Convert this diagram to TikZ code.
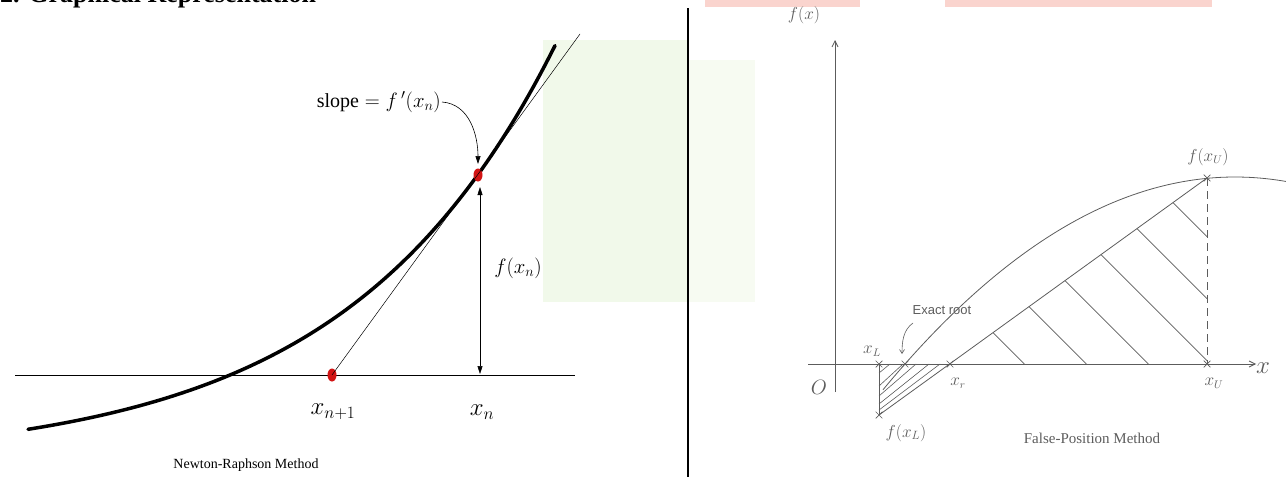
\documentclass[tikz,border=0pt]{standalone}
\usepackage{fontspec}
\setmainfont{Liberation Serif}
\newfontfamily\lsans{Liberation Sans}
\usetikzlibrary{arrows.meta,shapes.geometric,shapes.misc}
\definecolor{gr}{HTML}{5C5C5C}
\definecolor{nrred}{HTML}{D21414}
\definecolor{wmgreen}{HTML}{F1F9EA}
\definecolor{wmgreen2}{HTML}{F7FBF2}
\definecolor{wmpink}{HTML}{FAD4CE}
\begin{document}
\begin{tikzpicture}[x=1pt,y=-1pt,
  dot/.style={ellipse,fill=nrred,minimum width=9pt,minimum height=13pt,inner sep=0pt},
  lbl/.style={inner sep=1pt},
  fs/.style={font=\fontsize{#1}{#1}\selectfont},
  gline/.style={draw=gr,line width=0.8pt},
  xmark/.style={cross out,draw=gr,line width=0.7pt,minimum size=6pt,inner sep=0pt},
  hatch/.style={draw=gr,line width=0.6pt}]
\useasboundingbox (0,0) rectangle (1286,477);
% faint watermark
\fill[wmgreen] (543,40) rectangle (688,302);
\fill[wmgreen2] (688,60) rectangle (755,302);
\fill[wmpink] (705,0) rectangle (860,7);
\fill[wmpink] (945,0) rectangle (1212,7);
% title (cut off at top)
\node[anchor=base west,inner sep=0pt,font=\bfseries\fontsize{26}{26}\selectfont] (title) at (0,2) {2. Graphical Representation};
% ---------- Newton-Raphson ----------
\coordinate (ax0) at (15,375);
\coordinate (ax1) at (575,375);
\draw[line width=1pt] (ax0) -- (ax1);
\draw[line width=3.5pt,line cap=round] plot[domain=28:555,samples=100] (\x,{375-87.4*(exp(0.0048*(\x-230))-1)});
\node[dot] (xn) at (478,175) {};
\node[dot] (xn1) at (332,375) {};
\coordinate (tt) at (580,34);
\draw[line width=0.5pt] (xn1.center) -- (tt);
\coordinate (fa) at (480,187);
\coordinate (fb) at (480,374);
\draw[line width=0.5pt,{Triangle[length=8pt,width=5pt]}-{Triangle[length=8pt,width=5pt]}] (fa) -- (fb);
\node[lbl,anchor=east,fs=20] (slope) at (442,102) {slope${}={}f\,'(x_n)$};
\draw[line width=0.6pt,-{Triangle[length=8pt,width=5pt]}] (slope.east) .. controls +(28,2) and +(0,-28) .. (478,164);
\node[lbl,fs=22] (fxn) at (518,268) {$f(x_n)$};
\node[lbl,fs=26] (lxn1) at (333,412) {$x_{n+1}$};
\node[lbl,fs=26] (lxn) at (482,412) {$x_n$};
\node[lbl,fs=14] (nrt) at (246,465) {Newton-Raphson Method};
% divider
\coordinate (d0) at (688,8);
\coordinate (d1) at (688,477);
\draw[line width=2pt] (d0) -- (d1);
% ---------- False position ----------
\coordinate (xa0) at (808,364);
\coordinate (xa1) at (1256,364);
\coordinate (ya0) at (835,392);
\coordinate (ya1) at (835,40);
\draw[gline,-{Straight Barb[length=6pt,width=6pt]}] (xa0) -- (xa1);
\draw[gline,-{Straight Barb[length=6pt,width=6pt]}] (ya0) -- (ya1);
\draw[gline] plot[domain=883:1286,samples=80] (\x,{17.17*((\x-1235)/100)^2+177});
\coordinate (xl) at (879,364);
\coordinate (fxl) at (879,415);
\coordinate (xr) at (950,364);
\coordinate (xu) at (1207,364);
\coordinate (fxu) at (1207,178);
\coordinate (xe) at (905,364);
\draw[gline] (fxl) -- (fxu);
\draw[gline] (xl) -- (fxl);
\draw[gline,dash pattern=on 8pt off 5pt] (fxu) -- (xu);
% big hatch
\draw[hatch] (993,332.6) -- (1024.4,364);
\draw[hatch] (1029,306.6) -- (1086.4,364);
\draw[hatch] (1065,280.6) -- (1148.4,364);
\draw[hatch] (1101,254.6) -- (1207,360.6);
\draw[hatch] (1137,228.6) -- (1207,298.6);
\draw[hatch] (1173,202.6) -- (1207,236.6);
% small hatch
\draw[hatch] (879,373) -- (890,364);
\draw[hatch] (879,386) -- (903,364);
\draw[hatch] (879,396) -- (916,364);
\draw[hatch] (879,404) -- (929,364);
\draw[hatch] (879,410) -- (940,364);
% marks
\node[xmark] (mxl) at (xl) {};
\node[xmark] (mxe) at (xe) {};
\node[xmark] (mxr) at (xr) {};
\node[xmark] (mxu) at (xu) {};
\node[xmark] (mfxu) at (fxu) {};
\node[xmark] (mfxl) at (fxl) {};
% labels
\node[lbl,text=gr,fs=17] (lfx) at (804,15) {$f(x)$};
\node[lbl,text=gr,fs=22] (lO) at (819,387) {$O$};
\node[lbl,text=gr,fs=24] (lx) at (1263,368) {$x$};
\node[lbl,text=gr,fs=16] (lxl) at (872,351) {$x_L$};
\node[lbl,text=gr,fs=16] (lxr) at (958,383) {$x_r$};
\node[lbl,text=gr,fs=16] (lxu) at (1214,383) {$x_U$};
\node[lbl,text=gr,fs=18] (lfxl) at (906,433) {$f(x_L)$};
\node[lbl,text=gr,fs=16] (lfxu) at (1208,157) {$f(x_U)$};
\node[lbl,text=gr,font=\lsans\fontsize{13}{13}\selectfont] (exact) at (942,310) {Exact root};
\draw[gr,line width=0.6pt,-{Straight Barb[length=4pt,width=5pt]}] (913,323) .. controls (903,330) and (902,342) .. (902,354);
\node[lbl,text=gr,fs=15] (fpt) at (1092,438) {False-Position Method};
\end{tikzpicture}
\end{document}
